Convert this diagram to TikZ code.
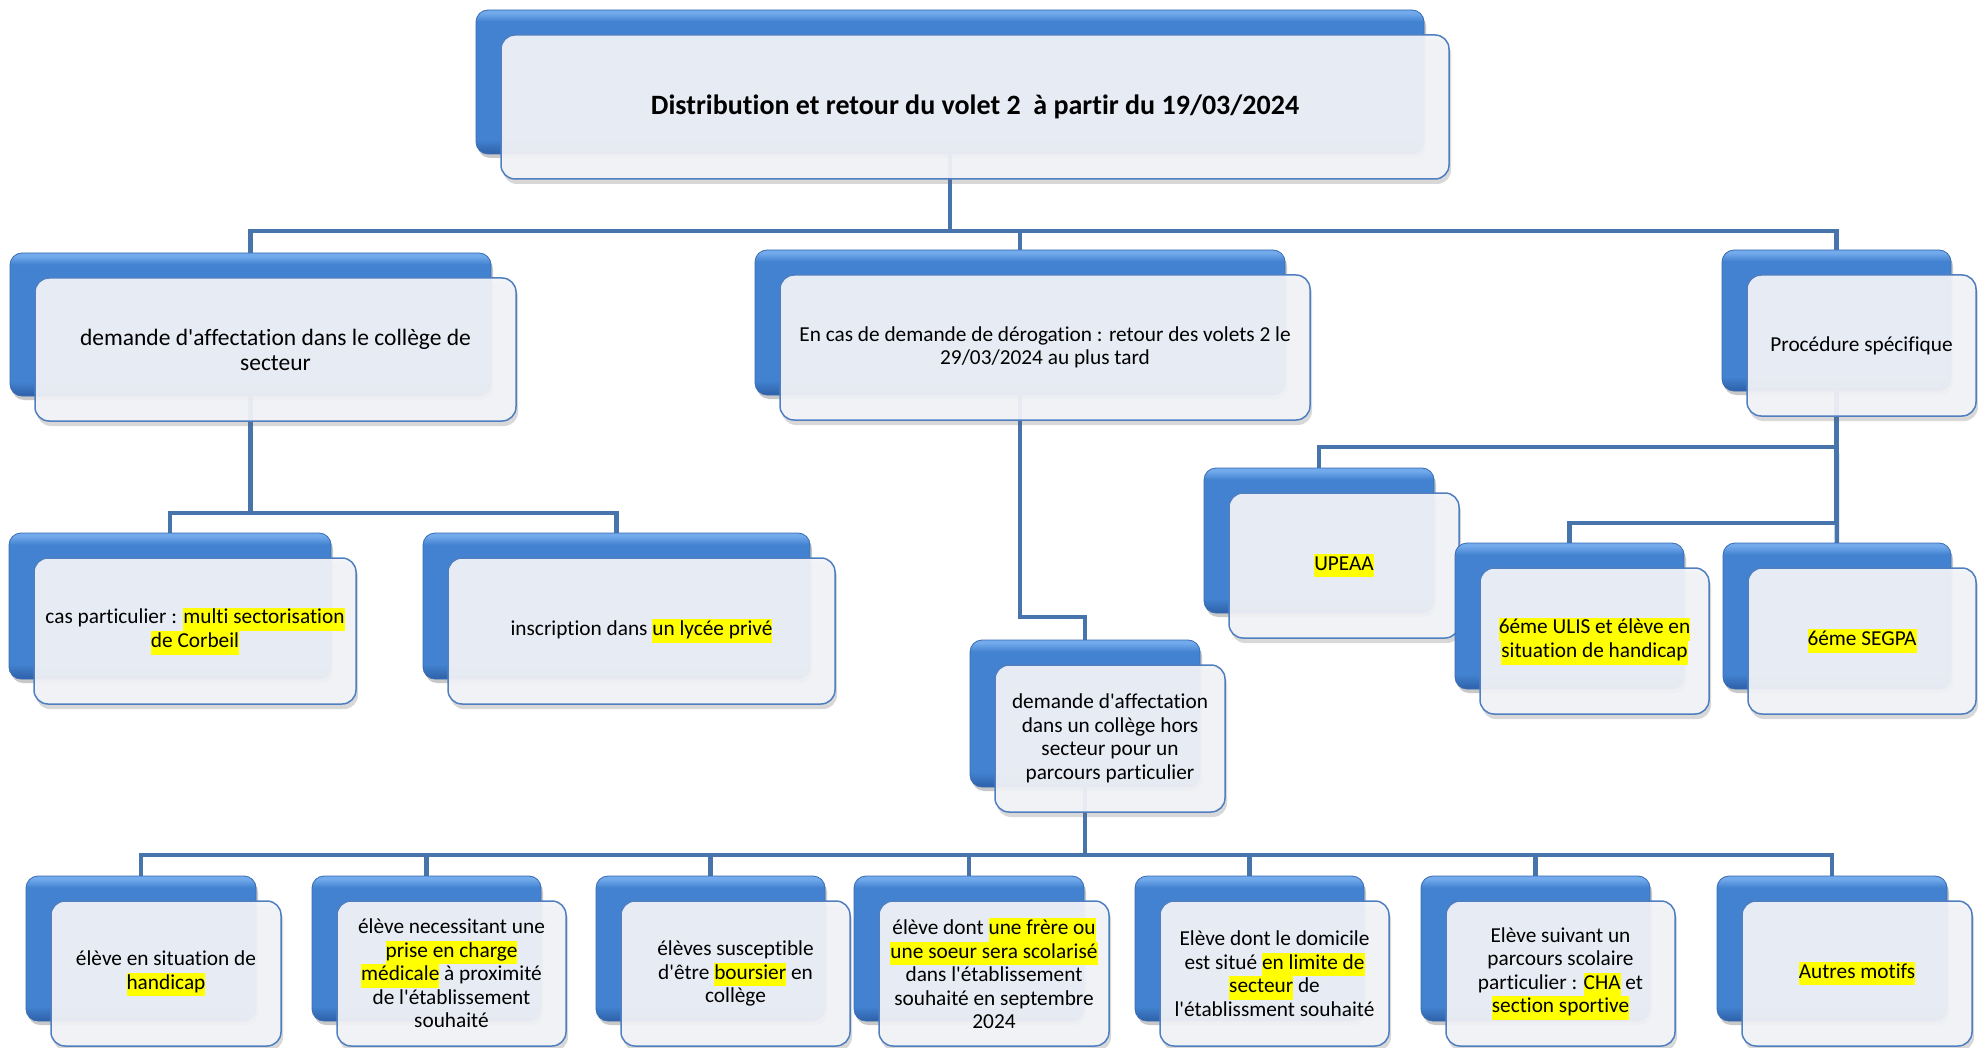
\documentclass[tikz,border=0pt]{standalone}
\usepackage{fontspec}
\setmainfont{Carlito}[Ligatures={TeXOff,NoCommon}]
\usetikzlibrary{shadows,calc}
\definecolor{conncol}{HTML}{4874AC}
\definecolor{backtop}{HTML}{72AAEC}
\definecolor{backmid}{HTML}{4282D0}
\definecolor{backbot}{HTML}{2E60A8}
\definecolor{backedge}{HTML}{3A6CB2}
\definecolor{frontfill}{HTML}{F3F4F8}
\definecolor{frontedge}{HTML}{4F7FC0}
\definecolor{hlyellow}{HTML}{FFFF00}
\pgfdeclareverticalshading{backshade}{100bp}{color(0bp)=(backbot); color(25bp)=(backbot); color(30bp)=(backmid); color(71bp)=(backmid); color(74bp)=(backtop); color(100bp)=(backtop)}
\newcommand\boxfont{\fontsize{21.3}{23.5}\selectfont}
\newcommand\hl[1]{{\fboxsep=0pt\colorbox{hlyellow}{\strut #1}}}
\pgfdeclarelayer{bg}
\pgfsetlayers{bg,main}
\tikzset{
  backbox/.style={rounded corners=12pt, draw=backedge, line width=0.8pt,
    shading=backshade, inner sep=0pt, outer sep=0pt,
    drop shadow={shadow xshift=2pt, shadow yshift=-4pt, opacity=0.3, fill=black!70}},
  frontbox/.style={rounded corners=14pt, draw=frontedge, line width=1.5pt,
    fill=frontfill, fill opacity=0.93, text opacity=1, inner sep=0pt, outer sep=0pt,
    align=center, text=black,
    drop shadow={shadow xshift=2pt, shadow yshift=-5pt, opacity=0.25, fill=black!60}},
  connline/.style={draw=conncol, line width=4.5pt}
}
% [font] name, x1, y1, x2, y2 of the front box (pixels, y downward), text
\newcommand\smartbox[7][\boxfont]{%
  \node[backbox, minimum width={#5pt-#3pt}, minimum height={#6pt-#4pt}]
    (#2b) at ({(#3+#5)/2-25},{-(#4+#6)/2+25}) {};
  \node[frontbox, font=#1, minimum width={#5pt-#3pt}, minimum height={#6pt-#4pt}]
    (#2) at ({(#3+#5)/2},{-(#4+#6)/2}) {#7};%
}
\begin{document}
\begin{tikzpicture}[x=1pt,y=1pt]
\useasboundingbox (0,0) rectangle (1978,-1048);

\smartbox[\fontsize{28}{32}\selectfont\bfseries]{top}{501}{35}{1449}{179}{Distribution et retour du volet 2\ \ à partir du 19/03/2024}

\smartbox[\fontsize{23.5}{25}\selectfont]{l2l}{35}{278}{516}{421}{demande d'affectation dans le collège de\\secteur}
\smartbox{l2m}{780}{275}{1310}{420}{En cas de demande de dérogation : retour des volets 2 le\\29/03/2024 au plus tard}
\smartbox{l2r}{1747}{275}{1976}{416}{Procédure spécifique}

\smartbox{casp}{34}{558}{356}{704}{cas particulier : \hl{multi sectorisation}\\\hl{de Corbeil}}
\smartbox{insc}{448}{558}{835}{704}{inscription dans \hl{un lycée privé}}
\smartbox{hors}{995}{665}{1225}{812}{demande d'affectation\\dans un collège hors\\secteur pour un\\parcours particulier}

\smartbox{upeaa}{1229}{493}{1459}{638}{\hl{UPEAA}}
\smartbox{ulis}{1480}{568}{1709}{714}{\hl{6éme ULIS et élève en}\\\hl{situation de handicap}}
\smartbox{segpa}{1748}{568}{1976}{714}{\hl{6éme SEGPA}}

\smartbox{bA}{51}{901}{281}{1046}{élève en situation de\\\hl{handicap}}
\smartbox{bB}{337}{901}{566}{1046}{élève necessitant une\\\hl{prise en charge}\\\hl{médicale} à proximité\\de l'établissement\\souhaité}
\smartbox{bC}{621}{901}{850}{1046}{élèves susceptible\\d'être \hl{boursier} en\\collège}
\smartbox{bD}{879}{901}{1109}{1046}{élève dont \hl{une frère ou}\\\hl{une soeur sera scolarisé}\\dans l'établissement\\souhaité en septembre\\2024}
\smartbox{bE}{1160}{901}{1389}{1046}{Elève dont le domicile\\est situé \hl{en limite de}\\\hl{secteur} de\\l'établissment souhaité}
\smartbox{bF}{1446}{901}{1675}{1046}{Elève suivant un\\parcours scolaire\\particulier : \hl{CHA} et\\\hl{section sportive}}
\smartbox{bG}{1742}{901}{1972}{1046}{\hl{Autres motifs}}

\coordinate (bus1) at (0,-231);
\coordinate (bus2) at (0,-513);
\coordinate (bus3) at (0,-617);
\coordinate (bus4) at (0,-447);
\coordinate (bus5) at (0,-523);
\coordinate (bus6) at (0,-855);

\begin{pgfonlayer}{bg}
\fill[white] (0,0) rectangle (1978,-1048);
\foreach \c in {l2lb,l2mb,l2rb}
  \draw[connline] (topb.center) -- (topb.center |- bus1) -| (\c.center);
\foreach \c in {caspb,inscb}
  \draw[connline] (l2lb.center) -- (l2lb.center |- bus2) -| (\c.center);
\draw[connline] (l2mb.center) -- (l2mb.center |- bus3) -| (horsb.center);
\draw[connline] (l2rb.center) -- (l2rb.center |- bus4) -| (upeaab.center);
\draw[connline] (l2rb.center) -- (l2rb.center |- bus5) -| (ulisb.center);
\draw[connline] (l2rb.center) -- (segpab.center);
\foreach \c in {bAb,bBb,bCb,bDb,bEb,bFb,bGb}
  \draw[connline] (horsb.center) -- (horsb.center |- bus6) -| (\c.center);
\end{pgfonlayer}
\end{tikzpicture}
\end{document}
